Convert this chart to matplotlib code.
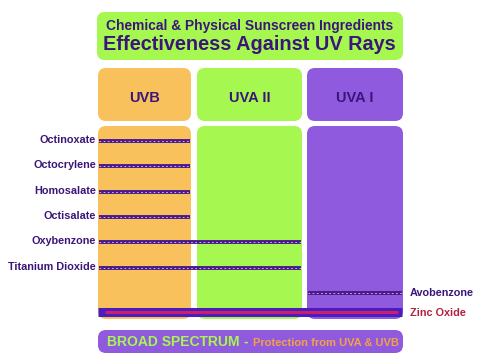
import matplotlib.pyplot as plt
from matplotlib.patches import FancyBboxPatch

plt.rcParams['font.family'] = ['Liberation Sans', 'DejaVu Sans']

# ---- data ----
bands = ["UVB", "UVA II", "UVA I"]
ingredients = ["Octinoxate", "Octocrylene", "Homosalate", "Octisalate",
               "Oxybenzone", "Titanium Dioxide", "Avobenzone", "Zinc Oxide"]
band_start = [0, 0, 0, 0, 0, 0, 2, 0]   # first band covered
band_end = [0, 0, 0, 0, 1, 1, 2, 2]     # last band covered

# ---- style / layout ----
ORANGE = "#f9c15c"
GREEN = "#a6f74f"
PURPLE = "#8f5ade"
INK = "#3b167a"
LINE = "#4a1a8c"
band_colors = [ORANGE, GREEN, PURPLE]
band_left = [98, 197, 307]
band_right = [191, 302, 403]
row_y = [141, 166, 192, 217, 242, 268, 293, 312]

fig = plt.figure(figsize=(4.84, 3.64), dpi=100)
ax = fig.add_axes([0, 0, 1, 1])
ax.set_xlim(0, 484)
ax.set_ylim(364, 0)
ax.axis("off")


def rbox(x0, y0, x1, y1, color, r=8):
    ax.add_patch(FancyBboxPatch((x0, y0), x1 - x0, y1 - y0,
                                boxstyle=f"round,pad=0,rounding_size={r}",
                                fc=color, ec="none"))


# title box
rbox(97, 12, 403, 60, GREEN)
ax.text(250, 26, "Chemical & Physical Sunscreen Ingredients", ha="center",
        va="center", fontsize=9.9, fontweight="bold", color=INK)
ax.text(249, 45, "Effectiveness Against UV Rays", ha="center", va="center",
        fontsize=14.3, fontweight="bold", color=INK)

# band headers and columns
for i, b in enumerate(bands):
    rbox(band_left[i], 68, band_right[i], 121, band_colors[i])
    rbox(band_left[i], 126, band_right[i], 319, band_colors[i])
    ax.text((band_left[i] + band_right[i]) / 2, 98, b, ha="center",
            va="center", fontsize=10.5, fontweight="bold", color=INK)

# ingredient coverage lines
for k, name in enumerate(ingredients):
    x0 = band_left[band_start[k]] + 1
    x1 = band_right[band_end[k]] - 1
    y = row_y[k]
    if name == "Zinc Oxide":
        ax.hlines(y, x0 - 1, x1, color="#4b1cc0", lw=6.5)
        ax.hlines(y, x0 + 6, x1 - 4, color="#c8206a", lw=2.2)
        ax.text(410, y + 1, name, ha="left", va="center", fontsize=7.8,
                fontweight="bold", color="#b3213f")
        continue
    ax.hlines(y, x0, x1, color=LINE, lw=2.8)
    ax.hlines(y, x0, x1, color="white", lw=0.6, linestyles=(0, (2, 3)),
              alpha=0.8)
    if band_start[k] == 0:
        ax.text(96, y - 1, name, ha="right", va="center", fontsize=7.8,
                fontweight="bold", color=INK)
    else:
        ax.text(410, y, name, ha="left", va="center", fontsize=7.8,
                fontweight="bold", color=INK)

# bottom banner
rbox(98, 330, 403, 353, PURPLE)
ax.text(107, 342, "BROAD SPECTRUM", ha="left", va="center", fontsize=10,
        fontweight="bold", color=GREEN)
ax.text(244, 342, "-", ha="left", va="center", fontsize=10,
        fontweight="bold", color=GREEN)
ax.text(253, 342.5, "Protection from UVA & UVB", ha="left", va="center",
        fontsize=8, fontweight="bold", color="#f5a145")

fig.savefig("out.png", dpi=100, facecolor="white")
